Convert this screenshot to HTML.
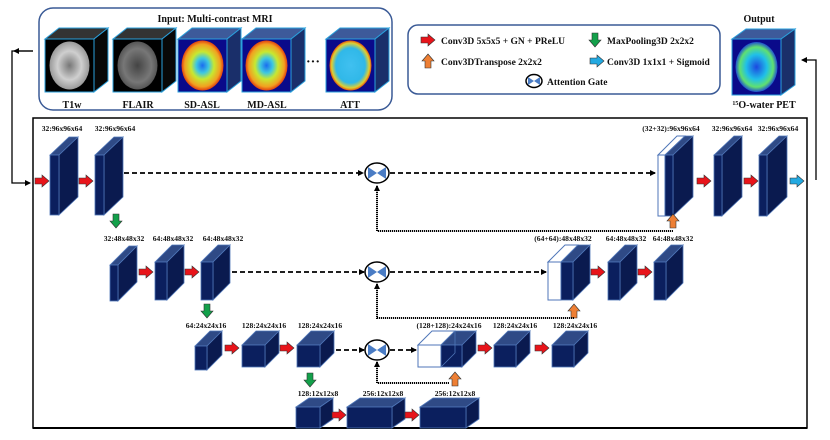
<!DOCTYPE html>
<html><head><meta charset="utf-8"><style>
html,body{margin:0;padding:0;background:#fff;width:830px;height:440px;overflow:hidden}
svg{display:block}
text{font-family:"Liberation Serif",serif;font-weight:bold;fill:#111}
.l{font-size:7.6px;text-anchor:middle}
.g{font-size:10px}
.f{fill:#0b1f5e;stroke:#4f76b8;stroke-width:.8}
.t{fill:#2f4a86;stroke:#4f76b8;stroke-width:.8}
.s{fill:#0a1a4f;stroke:#4f76b8;stroke-width:.8}
.w{fill:#fff;stroke:#4f76b8;stroke-width:1}
.d{fill:none;stroke:#000;stroke-width:1.8;stroke-dasharray:5,3}
.k{fill:none;stroke:#000;stroke-width:2;stroke-dasharray:1.2,0.8}
</style></head><body>
<svg width="830" height="440" viewBox="0 0 830 440" xmlns="http://www.w3.org/2000/svg">
<defs>
<path id="rr" d="M-7,-3H0V-6L7,0L0,6V3H-7Z" fill="#e8141a" stroke="#333" stroke-width=".6"/>
<path id="br" d="M-7,-3H0V-6L7,0L0,6V3H-7Z" fill="#23a9e1" stroke="#333" stroke-width=".6"/>
<path id="gd" d="M-3,-7V0H-6L0,7L6,0H3V-7Z" fill="#13a04a" stroke="#333" stroke-width=".6"/>
<path id="ou" d="M-3,7V0H-6L0,-7L6,0H3V7Z" fill="#ee7f34" stroke="#333" stroke-width=".6"/>
<marker id="ah" markerWidth="6" markerHeight="6" refX="5" refY="3" orient="auto" markerUnits="userSpaceOnUse"><path d="M0,0L6,3L0,6Z" fill="#000"/></marker>
<radialGradient id="asl" cx="50%" cy="50%" r="50%"><stop offset="0" stop-color="#1a6cf0"/><stop offset=".3" stop-color="#3fc8e0"/><stop offset=".55" stop-color="#c8e830"/><stop offset=".85" stop-color="#f2a020"/><stop offset="1" stop-color="#e04010"/></radialGradient>
<radialGradient id="pet" cx="50%" cy="50%" r="50%"><stop offset="0" stop-color="#1c48e0"/><stop offset=".5" stop-color="#20c0e8"/><stop offset=".8" stop-color="#60e070"/><stop offset="1" stop-color="#2050d0"/></radialGradient>
<radialGradient id="att" cx="50%" cy="50%" r="50%"><stop offset="0" stop-color="#40c0f0"/><stop offset=".7" stop-color="#30b8e8"/><stop offset=".9" stop-color="#e0d030"/><stop offset="1" stop-color="#e05010"/></radialGradient>
<radialGradient id="t1" cx="50%" cy="50%" r="50%"><stop offset="0" stop-color="#777"/><stop offset=".6" stop-color="#cfcfcf"/><stop offset="1" stop-color="#999"/></radialGradient>
<radialGradient id="fl" cx="50%" cy="50%" r="50%"><stop offset="0" stop-color="#444"/><stop offset=".7" stop-color="#777"/><stop offset="1" stop-color="#555"/></radialGradient>
</defs>

<rect x="39" y="8" width="353" height="102" rx="14" fill="none" stroke="#3a5a96" stroke-width="1.5"/>
<text x="215" y="22" class="g" text-anchor="middle">Input: Multi-contrast MRI</text>
<polygon points="45,39 59,28 108,28 94,39" fill="#333" stroke="#2aa0dc"/>
<polygon points="94,39 108,28 108,81 94,92" fill="#080808" stroke="#2aa0dc"/>
<rect x="45" y="39" width="49" height="53" fill="#000" stroke="#2aa0dc"/>
<ellipse cx="69.5" cy="65.5" rx="20" ry="24" fill="url(#t1)"/>
<polygon points="113,39 127,28 176,28 162,39" fill="#333" stroke="#2aa0dc"/>
<polygon points="162,39 176,28 176,81 162,92" fill="#080808" stroke="#2aa0dc"/>
<rect x="113" y="39" width="49" height="53" fill="#000" stroke="#2aa0dc"/>
<ellipse cx="137.5" cy="65.5" rx="20" ry="24" fill="url(#fl)"/>
<polygon points="178,39 192,28 241,28 227,39" fill="#3d5a9a" stroke="#2aa0dc"/>
<polygon points="227,39 241,28 241,81 227,92" fill="#1a2f6a" stroke="#2aa0dc"/>
<rect x="178" y="39" width="49" height="53" fill="#0a0a8a" stroke="#2aa0dc"/>
<ellipse cx="202.5" cy="65.5" rx="21" ry="25" fill="url(#asl)"/>
<polygon points="242,39 256,28 305,28 291,39" fill="#3d5a9a" stroke="#2aa0dc"/>
<polygon points="291,39 305,28 305,81 291,92" fill="#1a2f6a" stroke="#2aa0dc"/>
<rect x="242" y="39" width="49" height="53" fill="#0a0a8a" stroke="#2aa0dc"/>
<ellipse cx="266.5" cy="65.5" rx="21" ry="25" fill="url(#asl)"/>
<text x="313" y="66" font-size="14" text-anchor="middle">···</text>
<polygon points="326,39 340,28 389,28 375,39" fill="#3d5a9a" stroke="#2aa0dc"/>
<polygon points="375,39 389,28 389,81 375,92" fill="#1a2f6a" stroke="#2aa0dc"/>
<rect x="326" y="39" width="49" height="53" fill="#0a0a8a" stroke="#2aa0dc"/>
<ellipse cx="350.5" cy="65.5" rx="21" ry="25" fill="url(#att)"/>
<text x="72" y="108" class="g" text-anchor="middle">T1w</text>
<text x="138" y="108" class="g" text-anchor="middle">FLAIR</text>
<text x="202" y="108" class="g" text-anchor="middle">SD-ASL</text>
<text x="267" y="108" class="g" text-anchor="middle">MD-ASL</text>
<text x="350" y="108" class="g" text-anchor="middle">ATT</text>

<rect x="408" y="25" width="312" height="69" rx="10" fill="none" stroke="#3a5a96" stroke-width="1.5"/>
<use href="#rr" x="428" y="40"/><text x="441" y="44" font-size="9.5">Conv3D 5x5x5 + GN + PReLU</text>
<use href="#gd" x="595" y="40"/><text x="607" y="44" font-size="9.5">MaxPooling3D 2x2x2</text>
<use href="#ou" x="428" y="61"/><text x="441" y="65" font-size="9.5">Conv3DTranspose 2x2x2</text>
<use href="#br" x="597" y="61"/><text x="607" y="65" font-size="9.5">Conv3D 1x1x1 + Sigmoid</text>
<ellipse cx="534" cy="81" rx="8" ry="6.5" fill="#fff" stroke="#000" stroke-width="1.5"/>
<polygon points="528,77 534,81 528,85" fill="#4a7cc4"/><polygon points="540,77 534,81 540,85" fill="#4a7cc4"/>
<text x="547" y="85" font-size="9.5">Attention Gate</text>

<text x="759" y="22" class="g" text-anchor="middle">Output</text>
<polygon points="732,39 746,29 795,29 781,39" fill="#3d5a9a" stroke="#2aa0dc"/>
<polygon points="781,39 795,29 795,85 781,95" fill="#1a2f6a" stroke="#2aa0dc"/>
<rect x="732" y="39" width="49" height="56" fill="#0a0a8a" stroke="#2aa0dc"/>
<ellipse cx="756.5" cy="67" rx="21" ry="25" fill="url(#pet)"/>
<text x="764" y="108" class="g" text-anchor="middle"><tspan font-size="6" dy="-3">15</tspan><tspan dy="3">O-water PET</tspan></text>

<rect x="33" y="118" width="774" height="310" fill="none" stroke="#000" stroke-width="1.5"/>
<line x1="33" y1="428" x2="807" y2="428" stroke="#000" stroke-width="2"/>
<polyline points="33,51 12,51 12,183 30,183" fill="none" stroke="#000" stroke-width="1.3" marker-end="url(#ah)"/>
<line x1="33" y1="51" x2="14" y2="51" stroke="#000" stroke-width="1.3" marker-end="url(#ah)"/>
<polyline points="816,180 816,60 802,60" fill="none" stroke="#000" stroke-width="1.3" marker-end="url(#ah)"/>

<text x="62" y="131" class="l">32:96x96x64</text>
<text x="115" y="131" class="l">32:96x96x64</text>
<text x="671" y="131" class="l">(32+32):96x96x64</text>
<text x="732" y="131" class="l">32:96x96x64</text>
<text x="778" y="131" class="l">32:96x96x64</text>
<text x="124" y="241" class="l">32:48x48x32</text>
<text x="173" y="241" class="l">64:48x48x32</text>
<text x="223" y="241" class="l">64:48x48x32</text>
<text x="563" y="241" class="l">(64+64):48x48x32</text>
<text x="626" y="241" class="l">64:48x48x32</text>
<text x="673" y="241" class="l">64:48x48x32</text>
<text x="206" y="328" class="l">64:24x24x16</text>
<text x="264" y="328" class="l">128:24x24x16</text>
<text x="320" y="328" class="l">128:24x24x16</text>
<text x="449" y="328" class="l">(128+128):24x24x16</text>
<text x="515" y="328" class="l">128:24x24x16</text>
<text x="575" y="328" class="l">128:24x24x16</text>
<text x="318" y="396" class="l">128:12x12x8</text>
<text x="383" y="396" class="l">256:12x12x8</text>
<text x="455" y="396" class="l">256:12x12x8</text>

<polygon class="t" points="50,155 69,137 78,137 59,155"/><polygon class="s" points="59,155 78,137 78,197 59,215"/><rect class="f" x="50" y="155" width="9" height="60"/>
<polygon class="t" points="95,155 114,137 123,137 104,155"/><polygon class="s" points="104,155 123,137 123,197 104,215"/><rect class="f" x="95" y="155" width="9" height="60"/>
<polygon class="w" points="658,155 677,136 685,136 665,155"/><rect class="w" x="658" y="155" width="7" height="61"/>
<polygon class="t" points="665,155 685,136 693,136 673,155"/><polygon class="s" points="673,155 693,136 693,197 673,216"/><rect class="f" x="665" y="155" width="8" height="61"/>
<polygon class="t" points="714,155 734,136 742,136 722,155"/><polygon class="s" points="722,155 742,136 742,197 722,216"/><rect class="f" x="714" y="155" width="8" height="61"/>
<polygon class="t" points="759,155 779,136 787,136 767,155"/><polygon class="s" points="767,155 787,136 787,197 767,216"/><rect class="f" x="759" y="155" width="8" height="61"/>

<polygon class="t" points="110,265 129,246 137,246 118,265"/><polygon class="s" points="118,265 137,246 137,282 118,301"/><rect class="f" x="110" y="265" width="8" height="36"/>
<polygon class="t" points="155,262 172,245 184,245 167,262"/><polygon class="s" points="167,262 184,245 184,283 167,300"/><rect class="f" x="155" y="262" width="12" height="38"/>
<polygon class="t" points="201,262 218,245 230,245 213,262"/><polygon class="s" points="213,262 230,245 230,283 213,300"/><rect class="f" x="201" y="262" width="12" height="38"/>
<polygon class="w" points="548,262 565,245 578,245 561,262"/><rect class="w" x="548" y="262" width="13" height="38"/>
<polygon class="t" points="561,262 578,245 590,245 573,262"/><polygon class="s" points="573,262 590,245 590,283 573,300"/><rect class="f" x="561" y="262" width="12" height="38"/>
<polygon class="t" points="608,262 625,245 637,245 620,262"/><polygon class="s" points="620,262 637,245 637,283 620,300"/><rect class="f" x="608" y="262" width="12" height="38"/>
<polygon class="t" points="654,262 671,245 683,245 666,262"/><polygon class="s" points="666,262 683,245 683,283 666,300"/><rect class="f" x="654" y="262" width="12" height="38"/>

<polygon class="t" points="195,346 210,331 222,331 207,346"/><polygon class="s" points="207,346 222,331 222,355 207,370"/><rect class="f" x="195" y="346" width="12" height="24"/>
<polygon class="t" points="242,345 256,331 279,331 265,345"/><polygon class="s" points="265,345 279,331 279,353 265,367"/><rect class="f" x="242" y="345" width="23" height="22"/>
<polygon class="t" points="297,345 311,331 334,331 320,345"/><polygon class="s" points="320,345 334,331 334,353 320,367"/><rect class="f" x="297" y="345" width="23" height="22"/>
<polygon class="w" points="418,345 432,331 455,331 441,345"/><rect class="w" x="418" y="345" width="23" height="22"/>
<polygon class="t" points="441,345 455,331 476,331 462,345"/><polygon class="s" points="462,345 476,331 476,353 462,367"/><rect class="f" x="441" y="345" width="21" height="22"/>
<line x1="455" y1="331" x2="455" y2="353" stroke="#4f76b8" stroke-width=".8"/><line x1="441" y1="367" x2="455" y2="353" stroke="#4f76b8" stroke-width=".8"/>
<polygon class="t" points="494,345 508,331 530,331 516,345"/><polygon class="s" points="516,345 530,331 530,353 516,367"/><rect class="f" x="494" y="345" width="22" height="22"/>
<polygon class="t" points="552,345 566,331 588,331 574,345"/><polygon class="s" points="574,345 588,331 588,353 574,367"/><rect class="f" x="552" y="345" width="22" height="22"/>

<polygon class="t" points="296,407 309,398 333,398 320,407"/><polygon class="s" points="320,407 333,398 333,419 320,428"/><rect class="f" x="296" y="407" width="24" height="21"/>
<polygon class="t" points="347,407 360,398 405,398 392,407"/><polygon class="s" points="392,407 405,398 405,419 392,428"/><rect class="f" x="347" y="407" width="45" height="21"/>
<polygon class="t" points="420,407 433,398 479,398 466,407"/><polygon class="s" points="466,407 479,398 479,419 466,428"/><rect class="f" x="420" y="407" width="46" height="21"/>

<use href="#rr" x="42" y="181"/><use href="#rr" x="86" y="181"/><use href="#rr" x="704" y="181"/><use href="#rr" x="751" y="181"/><use href="#br" x="797" y="181"/>
<use href="#rr" x="146" y="272"/><use href="#rr" x="192" y="272"/><use href="#rr" x="598" y="272"/><use href="#rr" x="645" y="272"/>
<use href="#rr" x="232" y="348"/><use href="#rr" x="287" y="348"/><use href="#rr" x="485" y="348"/><use href="#rr" x="542" y="348"/>
<use href="#rr" x="339" y="415"/><use href="#rr" x="412" y="415"/>
<use href="#gd" x="116" y="221"/><use href="#gd" x="207" y="311"/><use href="#gd" x="310" y="380"/>
<use href="#ou" x="673" y="221"/><use href="#ou" x="574" y="311"/><use href="#ou" x="455" y="379"/>

<line class="d" x1="124" y1="173" x2="363" y2="173" marker-end="url(#ah)"/>
<line class="d" x1="390" y1="173" x2="655" y2="173" marker-end="url(#ah)"/>
<line class="d" x1="232" y1="272" x2="364" y2="272" marker-end="url(#ah)"/>
<line class="d" x1="390" y1="272" x2="546" y2="272" marker-end="url(#ah)"/>
<line class="d" x1="336" y1="350" x2="364" y2="350" marker-end="url(#ah)"/>
<line class="d" x1="390" y1="350" x2="416" y2="350" marker-end="url(#ah)"/>
<polyline class="k" points="673,231 377,231 377,186" marker-end="url(#ah)"/>
<polyline class="k" points="574,318 377,318 377,284" marker-end="url(#ah)"/>
<polyline class="k" points="449,383 377,383 377,362" marker-end="url(#ah)"/>

<g stroke="#000" stroke-width="1.5" fill="#fff">
<ellipse cx="377" cy="173" rx="12" ry="10"/><ellipse cx="377" cy="272" rx="12" ry="10"/><ellipse cx="377" cy="350" rx="12" ry="10"/>
</g>
<g fill="#4a7cc4">
<polygon points="368,167 377,173 368,179"/><polygon points="386,167 377,173 386,179"/>
<polygon points="368,266 377,272 368,278"/><polygon points="386,266 377,272 386,278"/>
<polygon points="368,344 377,350 368,356"/><polygon points="386,344 377,350 386,356"/>
</g>
</svg>
</body></html>
